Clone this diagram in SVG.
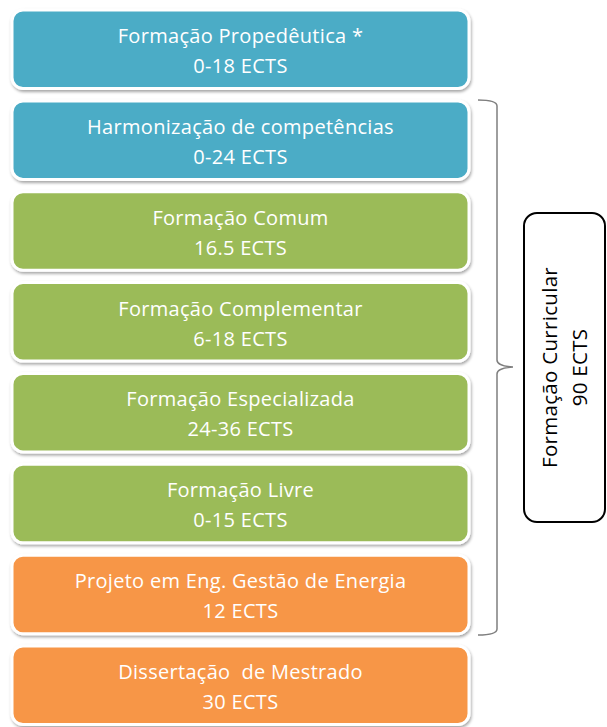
<svg xmlns="http://www.w3.org/2000/svg" width="607" height="727" viewBox="0 0 607 727">
  <defs>
    <filter id="shadow" x="-5%" y="-10%" width="110%" height="130%">
      <feDropShadow dx="1" dy="2" stdDeviation="1.5" flood-color="#000" flood-opacity="0.35"/>
    </filter>
  </defs>
  <style>
    .box { stroke: #ffffff; stroke-width: 3; filter: url(#shadow); }
    .blue { fill: #4BACC6; }
    .green { fill: #9BBB59; }
    .orange { fill: #F79646; }
    .lbl { font-family: "Open Sans", "Liberation Sans", sans-serif; font-size: 20px; letter-spacing: 0.3px; fill: #ffffff; text-anchor: middle; }
    .side { font-family: "Open Sans", "Liberation Sans", sans-serif; font-size: 20.5px; letter-spacing: 0.3px; fill: #000000; text-anchor: middle; }
    .brace { fill: none; stroke: #7f7f7f; stroke-width: 1.5; }
  </style>
  <rect width="607" height="727" fill="#ffffff"/>

  <g id="propedeutica">
    <rect class="box blue" x="12" y="10" width="457" height="78.5" rx="11"/>
    <text class="lbl" x="240.5" y="43">Formação Propedêutica *</text>
    <text class="lbl" x="240.5" y="73">0-18 ECTS</text>
  </g>
  <g id="harmonizacao">
    <rect class="box blue" x="12" y="100.9" width="457" height="78.5" rx="11"/>
    <text class="lbl" x="240.5" y="133.9">Harmonização de competências</text>
    <text class="lbl" x="240.5" y="163.9">0-24 ECTS</text>
  </g>
  <g id="comum">
    <rect class="box green" x="12" y="191.7" width="457" height="78.5" rx="11"/>
    <text class="lbl" x="240.5" y="224.7">Formação Comum</text>
    <text class="lbl" x="240.5" y="254.7">16.5 ECTS</text>
  </g>
  <g id="complementar">
    <rect class="box green" x="12" y="282.6" width="457" height="78.5" rx="11"/>
    <text class="lbl" x="240.5" y="315.6">Formação Complementar</text>
    <text class="lbl" x="240.5" y="345.6">6-18 ECTS</text>
  </g>
  <g id="especializada">
    <rect class="box green" x="12" y="373.4" width="457" height="78.5" rx="11"/>
    <text class="lbl" x="240.5" y="406.4">Formação Especializada</text>
    <text class="lbl" x="240.5" y="436.4">24-36 ECTS</text>
  </g>
  <g id="livre">
    <rect class="box green" x="12" y="464.3" width="457" height="78.5" rx="11"/>
    <text class="lbl" x="240.5" y="497.3">Formação Livre</text>
    <text class="lbl" x="240.5" y="527.3">0-15 ECTS</text>
  </g>
  <g id="projeto">
    <rect class="box orange" x="12" y="555.2" width="457" height="78.5" rx="11"/>
    <text class="lbl" x="240.5" y="588.2">Projeto em Eng. Gestão de Energia</text>
    <text class="lbl" x="240.5" y="618.2">12 ECTS</text>
  </g>
  <g id="dissertacao">
    <rect class="box orange" x="12" y="646" width="457" height="78.5" rx="11"/>
    <text class="lbl" x="240.5" y="679">Dissertação&#160; de Mestrado</text>
    <text class="lbl" x="240.5" y="709">30 ECTS</text>
  </g>

  <g id="connectors">
    <!-- right curly brace grouping the curricular blocks -->
    <path class="brace" d="M478,100 Q497,100 497,106 L497,360 Q497,366 513,367 Q497,368 497,374 L497,629 Q497,635 478,635"/>
  </g>

  <g id="curricular">
    <rect x="524" y="213" width="81" height="309" rx="13" fill="#ffffff" stroke="#000000" stroke-width="2"/>
    <text class="side" transform="translate(557,367.5) rotate(-90)">Formação Curricular</text>
    <text class="side" transform="translate(587,367.5) rotate(-90)">90 ECTS</text>
  </g>
</svg>
